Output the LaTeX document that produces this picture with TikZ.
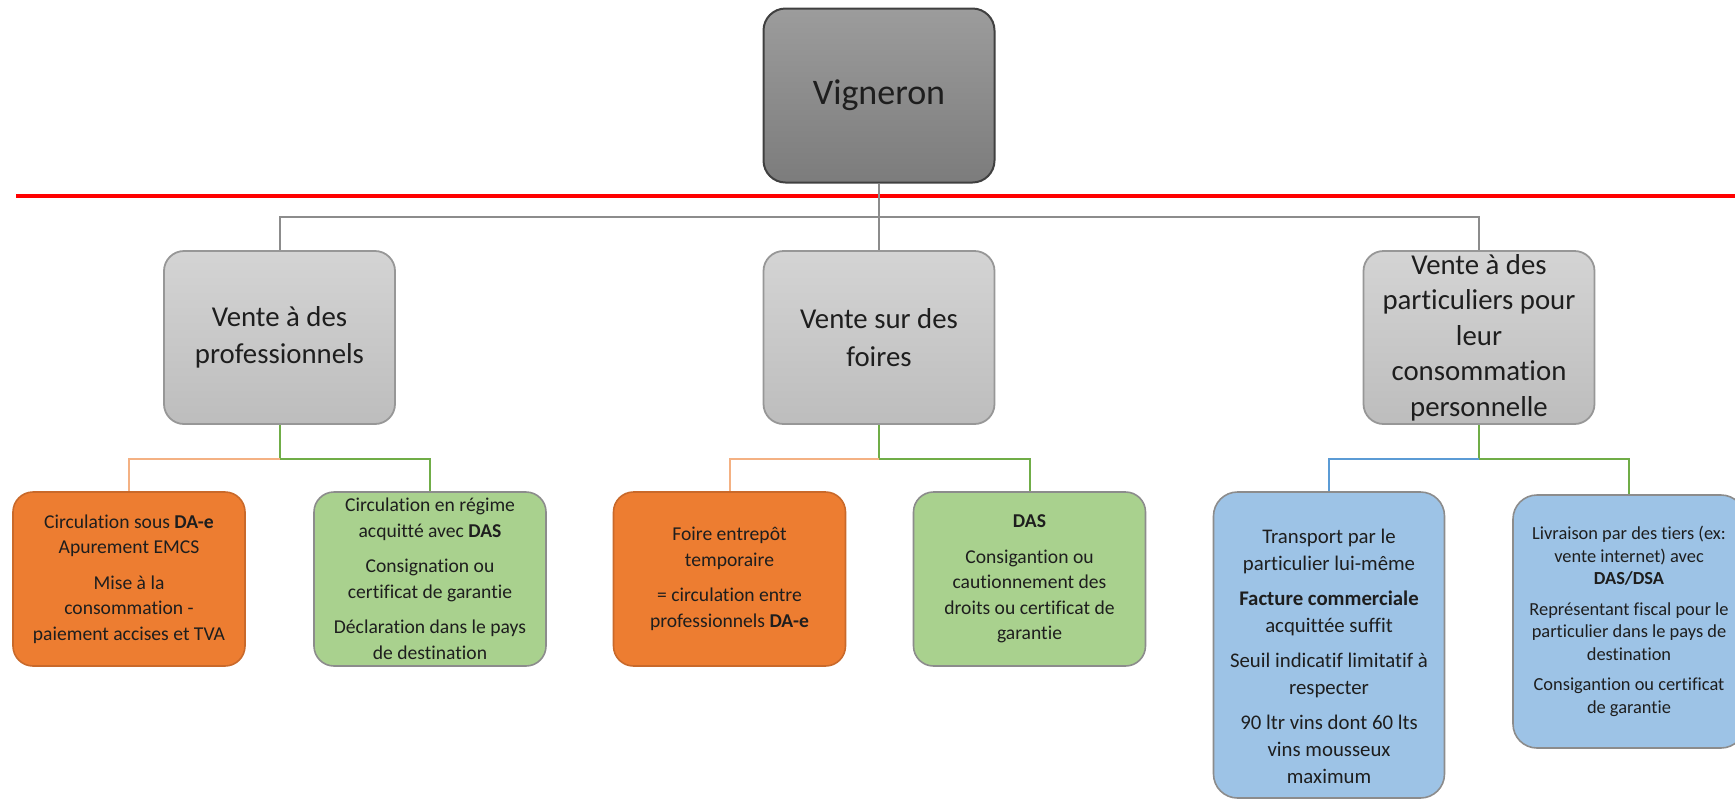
\documentclass[tikz,border=0pt]{standalone}
\usepackage{fontspec}
\setmainfont[RawFeature={-liga;-clig;-calt;-dlig}]{Carlito}
\definecolor{txt}{HTML}{1E1E1E}
\definecolor{vtop}{HTML}{9C9C9C}
\definecolor{vbot}{HTML}{7C7C7C}
\definecolor{ltop}{HTML}{D4D4D4}
\definecolor{lbot}{HTML}{BDBDBD}
\definecolor{orfill}{HTML}{ED7D31}
\definecolor{orline}{HTML}{C9692A}
\definecolor{grfill}{HTML}{A9D18E}
\definecolor{blfill}{HTML}{9DC3E6}
\definecolor{boxline}{HTML}{8C8C8C}
\definecolor{cgray}{HTML}{8C8C8C}
\definecolor{corange}{HTML}{F4B183}
\definecolor{cgreen}{HTML}{70AD47}
\definecolor{cblue}{HTML}{5B9BD5}
\definecolor{redl}{HTML}{FF0000}
\tikzset{
  topbox/.style={draw=black!75, line width=1pt, rounded corners=11pt,
    top color=vtop, bottom color=vbot, minimum width=115.5pt, minimum height=87pt,
    inner sep=0pt, align=center, text=txt, font=\fontsize{18}{22}\selectfont},
  lvlbox/.style={draw=boxline!90, line width=0.9pt, rounded corners=10pt,
    top color=ltop, bottom color=lbot, minimum width=115.5pt, minimum height=86.5pt,
    inner sep=0pt, align=center, text=txt, font=\fontsize{14.4}{18.75}\selectfont},
  smallbox/.style={line width=0.8pt, rounded corners=10pt,
    minimum width=116pt, minimum height=87pt, inner sep=0pt, align=center,
    text=txt, font=\fontsize{9.8}{12.75}\selectfont},
  orbox/.style={smallbox, draw=orline, fill=orfill},
  grbox/.style={smallbox, draw=boxline, fill=grfill},
  blbox/.style={smallbox, draw=boxline, fill=blfill, rounded corners=12pt},
  plaintxt/.style={inner sep=0pt, align=center, text=txt},
  gconn/.style={draw=cgray, line width=1pt},
  oconn/.style={draw=corange, line width=1pt},
  nconn/.style={draw=cgreen, line width=1pt},
  bconn/.style={draw=cblue, line width=1pt},
  redrule/.style={draw=redl, line width=2pt}
}
\begin{document}
\begin{tikzpicture}[x=0.5pt,y=-0.5pt]
\useasboundingbox (0,0) rectangle (1735,799);
% red rule
\coordinate (rl) at (16,196);
\coordinate (rr) at (1735,196);
\draw[redrule] (rl) -- (rr);
% top node
\node[topbox] (V) at (879,95.5) {Vigneron};
% level 1
\node[lvlbox] (P1) at (279.5,337.5) {Vente à des\\professionnels};
\node[lvlbox] (P2) at (879,337.5) {Vente sur des\\foires};
\node[lvlbox, font=\fontsize{14.4}{17.75}\selectfont] (P3) at (1479,337.5) {Vente à des\\particuliers pour\\leur\\consommation\\personnelle};
% level 2
\node[orbox] (A) at (129,579) {Circulation sous \textbf{DA-e}\\Apurement EMCS\\[5pt]Mise à la\\consommation -\\paiement accises et TVA};
\node[grbox] (B) at (430,579) {Circulation en régime\\acquitté avec \textbf{DAS}\\[5pt]Consignation ou\\certificat de garantie\\[5pt]Déclaration dans le pays\\de destination};
\node[orbox] (C) at (729.5,579) {Foire entrepôt\\temporaire\\[5pt]= circulation entre\\professionnels \textbf{DA-e}};
\node[grbox] (D) at (1029.5,579) {\textbf{DAS}\\[5pt]Consigantion ou\\cautionnement des\\droits ou certificat de\\garantie};
\node[blbox, minimum width=115.5pt, minimum height=153pt] (E) at (1329,645) {};
\node[plaintxt, font=\fontsize{10.4}{13.5}\selectfont] (Et) at ([yshift=-5.5pt]E.center) {Transport par le\\particulier lui-même\\[4pt]\textbf{Facture commerciale}\\acquittée suffit\\[4pt]Seuil indicatif limitatif à\\respecter\\[4pt]90 ltr vins dont 60 lts\\vins mousseux\\maximum};
\node[blbox, minimum width=116pt, minimum height=126.5pt, font=\fontsize{9.2}{11.25}\selectfont] (F) at (1629,621.5) {Livraison par des tiers (ex:\\vente internet) avec\\\textbf{DAS/DSA}\\[4pt]Représentant fiscal pour le\\particulier dans le pays de\\destination\\[4pt]Consigantion ou certificat\\de garantie};
% connectors level 1
\coordinate (busA) at (879,217);
\draw[gconn] (V.south) -- (P2.north);
\draw[gconn] (busA) -| (P1.north);
\draw[gconn] (busA) -| (P3.north);
% connectors level 2
\coordinate (bus1) at (279.5,459);
\coordinate (bus2) at (879,459);
\coordinate (bus3) at (1479,459);
\draw[nconn] (P1.south) -- (bus1) -| (B.north);
\draw[oconn] (bus1) -| (A.north);
\draw[nconn] (P2.south) -- (bus2) -| (D.north);
\draw[oconn] (bus2) -| (C.north);
\draw[nconn] (P3.south) -- (bus3) -| (F.north);
\draw[bconn] (bus3) -| (E.north);
\end{tikzpicture}
\end{document}
